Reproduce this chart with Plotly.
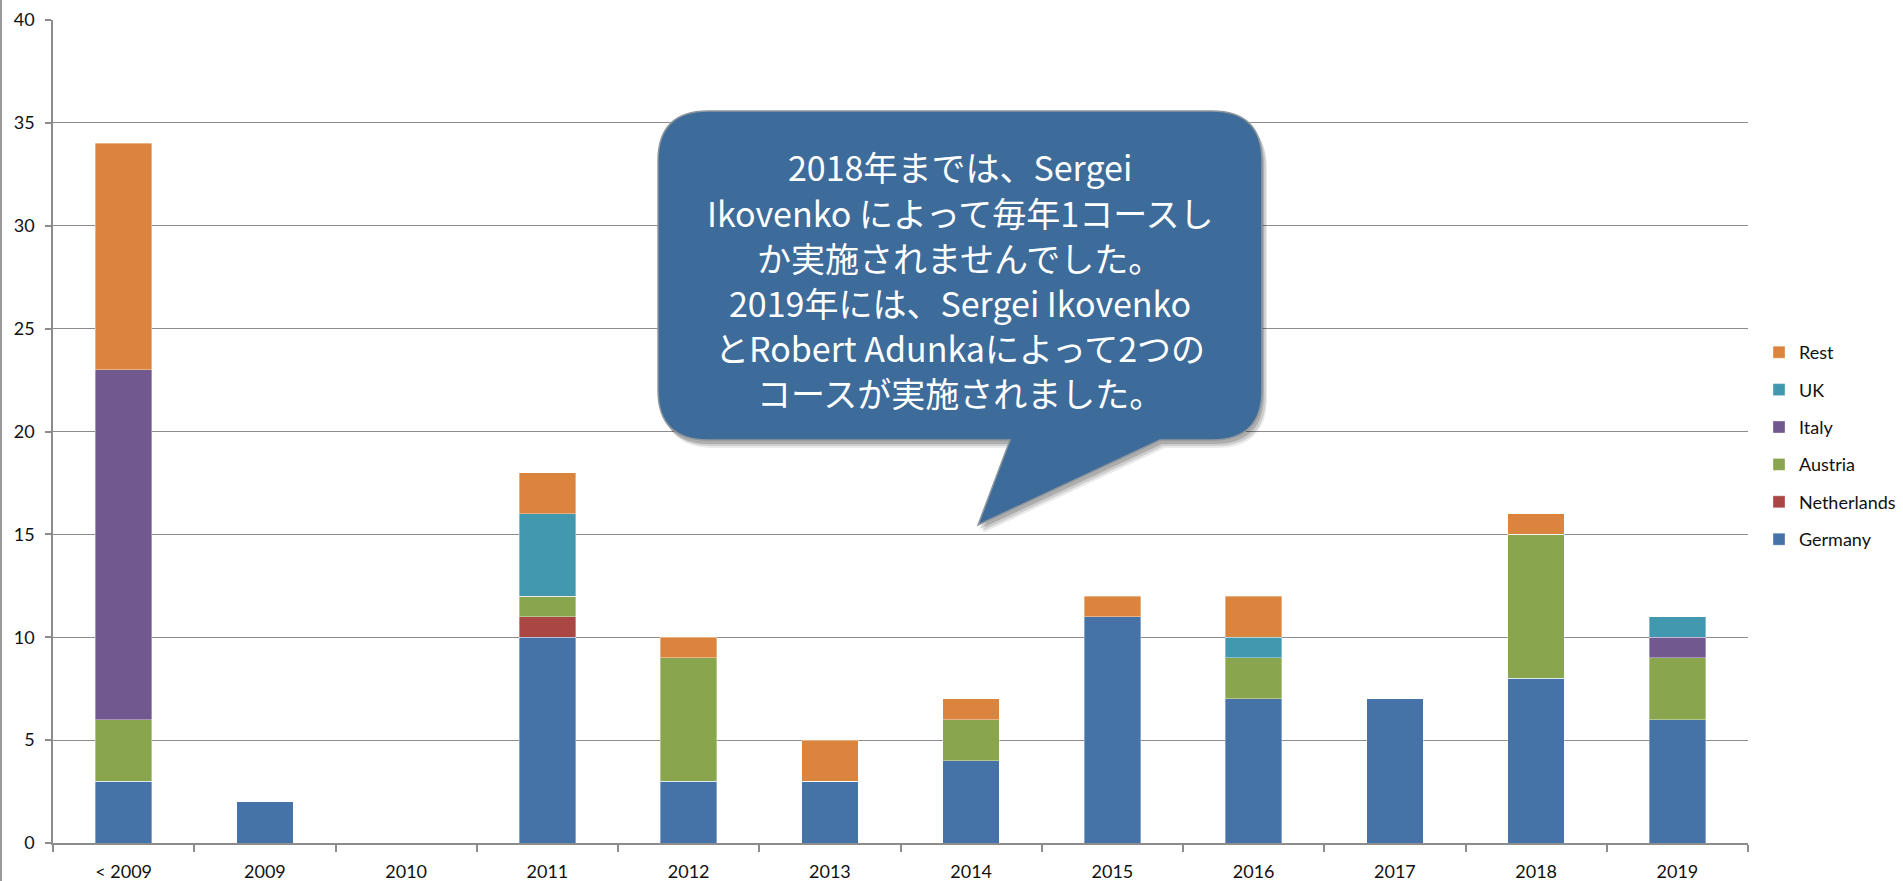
import plotly.graph_objects as go

categories = ["< 2009", "2009", "2010", "2011", "2012", "2013", "2014", "2015", "2016", "2017", "2018", "2019"]
germany     = [3, 2, 0, 10, 3, 3, 4, 11, 7, 7, 8, 6]
netherlands = [0, 0, 0, 1, 0, 0, 0, 0, 0, 0, 0, 0]
austria     = [3, 0, 0, 1, 6, 0, 2, 0, 2, 0, 7, 3]
italy       = [17, 0, 0, 0, 0, 0, 0, 0, 0, 0, 0, 1]
uk          = [0, 0, 0, 4, 0, 0, 0, 0, 1, 0, 0, 1]
rest        = [11, 0, 0, 2, 1, 2, 1, 1, 2, 0, 1, 0]
y_ticks = [0, 5, 10, 15, 20, 25, 30, 35, 40]

callout_lines = [
    "2018年までは、Sergei",
    "Ikovenko によって毎年1コースし",
    "か実施されませんでした。",
    "2019年には、Sergei Ikovenko",
    "とRobert Adunkaによって2つの",
    "コースが実施されました。",
]

series = [
    ("Germany", germany, "#4572A7"),
    ("Netherlands", netherlands, "#AA4643"),
    ("Austria", austria, "#89A54E"),
    ("Italy", italy, "#71588F"),
    ("UK", uk, "#4198AF"),
    ("Rest", rest, "#DB843D"),
]

W, H = 1903, 881
L, R, T, B = 53, 1748, 20, 843


def px(x):
    return (x - L) / (R - L)


def py(y):
    return (B - y) / (B - T)


fig = go.Figure()
n = len(series)
for i, (name, vals, col) in enumerate(series):
    fig.add_trace(go.Bar(
        x=categories, y=vals, name=name, legendgroup=name, legendrank=n - i,
        marker=dict(color=col, line=dict(color="rgba(255,255,255,0.45)", width=0.8)),
    ))

FONT = "Lato, 'Open Sans', sans-serif"
GRID = "#8c8c8c"
TXT = "#111111"

fig.update_layout(
    width=W, height=H,
    barmode="stack", bargap=0.6,
    plot_bgcolor="white", paper_bgcolor="white",
    margin=dict(l=L, r=W - R, t=T, b=H - B, pad=0, autoexpand=False),
    font=dict(family=FONT, size=18, color=TXT),
    legend=dict(
        x=px(1759), y=py(334), xanchor="left", yanchor="top",
        traceorder="grouped", tracegroupgap=11,
        font=dict(family=FONT, size=18, color=TXT),
        bgcolor="rgba(0,0,0,0)",
    ),
    showlegend=True,
)

fig.update_xaxes(
    type="category", showline=True, linecolor=GRID, linewidth=1.5,
    ticks="outside", tickson="boundaries", ticklen=7, tickcolor=GRID, tickwidth=1.5,
    showgrid=False, tickfont=dict(size=18, family=FONT, color=TXT),
    ticklabelstandoff=12, automargin=False,
)
fig.update_yaxes(
    range=[0, 40], tickvals=y_ticks, showline=True, linecolor=GRID, linewidth=1.5,
    ticks="outside", ticklen=6, tickcolor=GRID, tickwidth=1.5,
    showgrid=True, gridcolor=GRID, gridwidth=1.3, zeroline=False,
    tickfont=dict(size=18, family=FONT, color=TXT),
    ticklabelstandoff=7, automargin=False,
)

# left page border line
fig.add_shape(type="line", xref="paper", yref="paper",
              x0=px(1), x1=px(1), y0=py(0), y1=py(H),
              line=dict(color="#9a9a9a", width=2), layer="above")

# callout shape
bx0, bx1, by0, by1 = 658, 1262, 111, 440
r = 50
tail = [(1160, 440), (978, 525), (1010, 440)]


def callout_path(dx=0, dy=0):
    def P(x, y):
        return f"{px(x + dx):.5f},{py(y + dy):.5f}"
    parts = [
        f"M{P(bx0 + r, by0)}",
        f"L{P(bx1 - r, by0)}",
        f"Q{P(bx1, by0)} {P(bx1, by0 + r)}",
        f"L{P(bx1, by1 - r)}",
        f"Q{P(bx1, by1)} {P(bx1 - r, by1)}",
        f"L{P(*tail[0])}",
        f"L{P(*tail[1])}",
        f"L{P(*tail[2])}",
        f"L{P(bx0 + r, by1)}",
        f"Q{P(bx0, by1)} {P(bx0, by1 - r)}",
        f"L{P(bx0, by0 + r)}",
        f"Q{P(bx0, by0)} {P(bx0 + r, by0)}",
        "Z",
    ]
    return " ".join(parts)


for (dx, dy, a) in [(5, 8, 0.08), (4, 6, 0.12), (2, 4, 0.16)]:
    fig.add_shape(type="path", xref="paper", yref="paper", path=callout_path(dx, dy),
                  fillcolor=f"rgba(0,0,0,{a})", line=dict(width=0), layer="above")
fig.add_shape(type="path", xref="paper", yref="paper", path=callout_path(),
              fillcolor="#3D6C9B", line=dict(color="#8f969c", width=1.5), layer="above")

line_y = [167, 212, 257, 302, 347, 392]
cx = (bx0 + bx1) / 2
for txt, yy in zip(callout_lines, line_y):
    fig.add_annotation(
        x=px(cx), y=py(yy), xref="paper", yref="paper", text=txt, showarrow=False,
        xanchor="center", yanchor="middle",
        font=dict(family="'Noto Sans CJK JP', sans-serif", size=34, color="white"),
    )

fig.write_html(
    "out.html",
    config={"displayModeBar": False},
    post_script="document.body.style.margin='0px'; document.body.style.overflow='hidden';",
)
